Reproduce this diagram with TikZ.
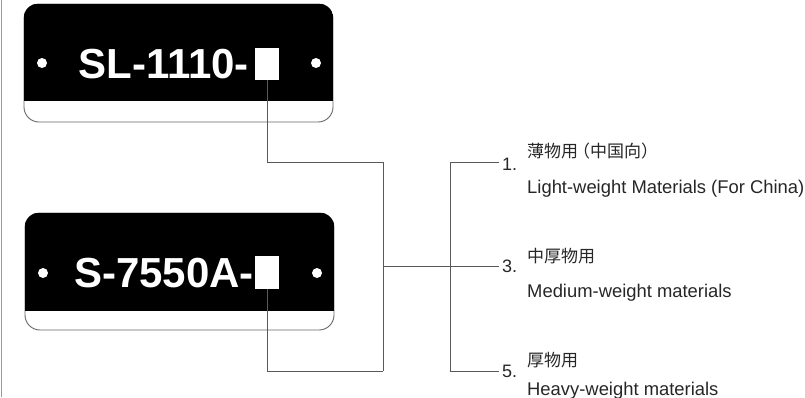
\documentclass[tikz,border=0pt]{standalone}
\usepackage{fontspec}
\setmainfont{Liberation Sans}
\newfontfamily\cjk{Noto Sans CJK JP}
\begin{document}
\begin{tikzpicture}[x=1pt, y=-1pt,
  plate/.style={rectangle, draw=black!60, line width=0.9pt, rounded corners=15pt, minimum width=309pt, minimum height=118pt, inner sep=0pt},
  hole/.style={circle, fill=white, minimum size=10pt, inner sep=0pt},
  code/.style={anchor=base east, text=white, font=\fontsize{42}{42}\selectfont\bfseries, inner sep=0pt},
  box/.style={rectangle, fill=white, minimum width=24pt, minimum height=32pt, inner sep=0pt},
  num/.style={anchor=base west, inner sep=3pt, font=\fontsize{18}{18}\selectfont, text=black!85},
  jp/.style={anchor=base west, inner sep=0pt, font=\fontsize{17}{17}\selectfont\cjk, text=black!85},
  en/.style={anchor=base west, inner sep=0pt, font=\fontsize{18.4}{18.4}\selectfont, text=black!85},
  wire/.style={draw=black!65, line width=0.9pt}]
\useasboundingbox (0,0) rectangle (805,397);
\draw[black!40, line width=1.2pt] (1.5,0) -- (1.5,397);
\node[plate] (pl0) at (178.5,63){};
\coordinate (c0) at (0,101);
\begin{scope}
\clip[rounded corners=15pt] (pl0.north west) rectangle (pl0.south east);
\fill (pl0.north west) rectangle (pl0.east |- c0);
\end{scope}
\node[hole] (h0) at (42,63){};
\node[hole] (h1) at (316,63){};
\node[code] (t0) at (249,78){SL-1110-};
\node[box] (sq0) at (267,64){};
\node[plate, minimum height=117pt] (pl1) at (179.5,271.5){};
\coordinate (c1) at (0,311);
\begin{scope}
\clip[rounded corners=15pt] (pl1.north west) rectangle (pl1.south east);
\fill (pl1.north west) rectangle (pl1.east |- c1);
\end{scope}
\node[hole] (h2) at (43,273){};
\node[hole] (h3) at (317,273){};
\node[code] (t1) at (254,287){S-7550A-};
\node[box, minimum height=33pt] (sq1) at (267,272.5){};
\node[num] (n0) at (499,170){1.};
\node[num] (n1) at (499,272){3.};
\node[num] (n2) at (499,377){5.};
\node[jp] (k0) at (527,157){薄物用\kern-5pt（中国向）};
\node[jp] (k1) at (527,262){中厚物用};
\node[jp] (k2) at (527,366){厚物用};
\node[en] (e0) at (527,193){Light-weight Materials (For China)};
\node[en] (e1) at (527,297){Medium-weight materials};
\node[en] (e2) at (527,395){Heavy-weight materials};
\coordinate (j0) at (383,162);
\coordinate (j1) at (383,371);
\coordinate (jm) at (383,266);
\coordinate (b0) at (450,162);
\coordinate (b1) at (450,371);
\draw[wire](sq0.south) |- (j0) -- (j1);
\draw[wire](sq1.south) |- (j1);
\draw[wire](jm) -- (jm -| n1.west);
\draw[wire](n0.west |- b0) -- (b0) -- (b1) -- (b1 -| n2.west);
\end{tikzpicture}
\end{document}
